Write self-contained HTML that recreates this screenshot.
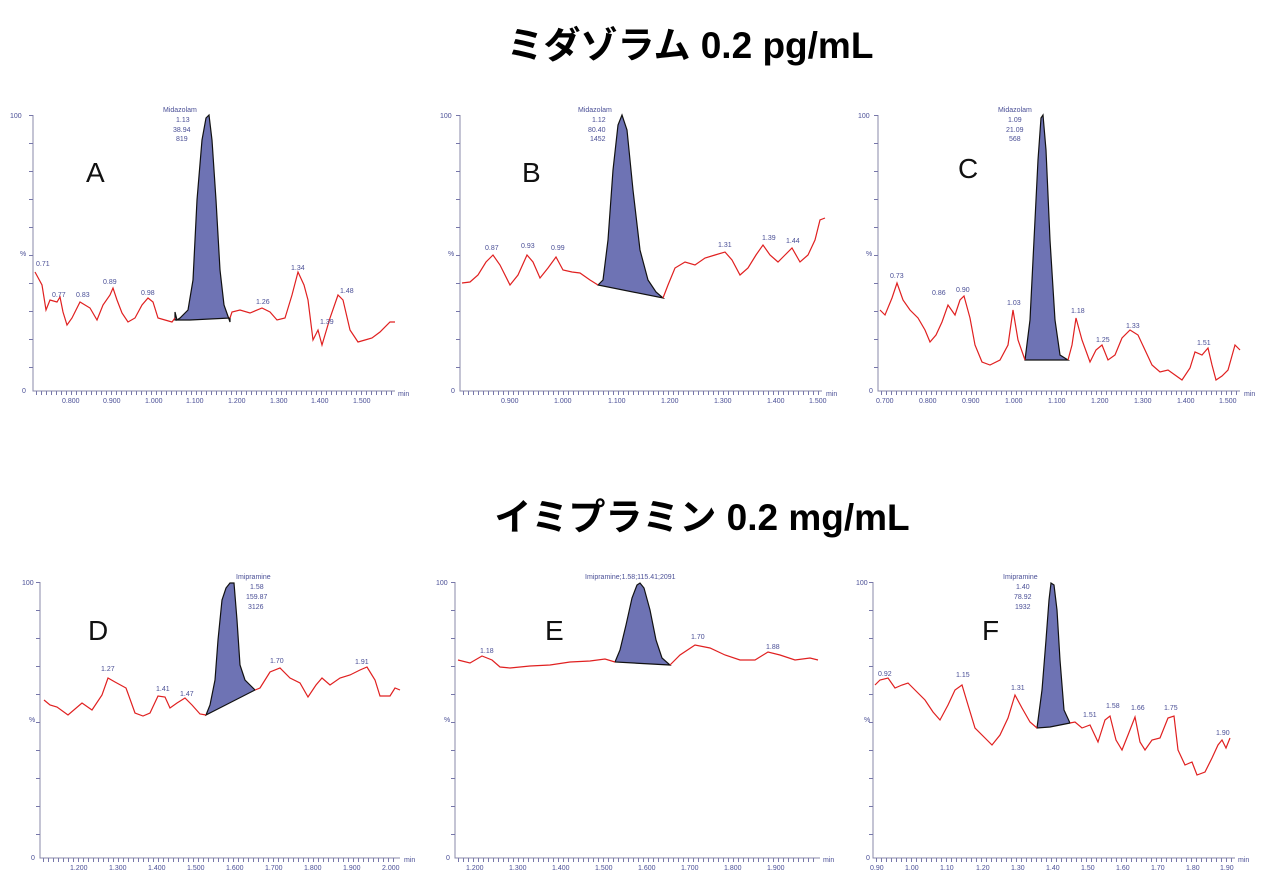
<!DOCTYPE html>
<html><head><meta charset="utf-8"><style>
html,body{margin:0;padding:0;background:#fff;width:1280px;height:896px;overflow:hidden}
svg{display:block}
.t{font-family:"Liberation Sans","Noto Sans CJK JP",sans-serif;font-weight:bold;font-size:37px;fill:#000}
.L{font-family:"Liberation Sans",sans-serif;font-size:28px;fill:#111}
.s{font-family:"Liberation Sans",sans-serif;font-size:7px;fill:#4a4f96}
.ax{stroke:#8888aa;stroke-width:1;fill:none}
.tk{stroke:#7777aa;stroke-width:4;stroke-dasharray:1 4;fill:none}
.tr{stroke:#e02020;stroke-width:1.2;fill:none}
.pk{fill:#6e73b4;stroke:#111;stroke-width:1.2}
</style></head><body>
<svg width="1280" height="896" viewBox="0 0 1280 896">
<text class="t" x="690" y="58" text-anchor="middle">ミダゾラム 0.2 pg/mL</text>
<text class="t" x="702" y="530" text-anchor="middle">イミプラミン 0.2 mg/mL</text>

<!-- Panel A -->
<path class="ax" d="M33 115V391H395"/><path class="tk" d="M36 393H392"/>
<path class="tk" d="M31 115V391" style="stroke-dasharray:1 27"/>
<text class="s" x="10" y="118">100</text><text class="s" x="20" y="256">%</text><text class="s" x="22" y="393">0</text>
<text class="s" x="62" y="403">0.800</text><text class="s" x="103" y="403">0.900</text><text class="s" x="145" y="403">1.000</text><text class="s" x="186" y="403">1.100</text><text class="s" x="228" y="403">1.200</text><text class="s" x="270" y="403">1.300</text><text class="s" x="311" y="403">1.400</text><text class="s" x="353" y="403">1.500</text><text class="s" x="398" y="396">min</text>
<text class="L" x="86" y="182">A</text>
<text class="s" x="163" y="112">Midazolam</text><text class="s" x="176" y="122">1.13</text><text class="s" x="173" y="132">38.94</text><text class="s" x="176" y="141">819</text>
<polygon class="pk" points="175,312 177,320 180,318 188,310 193,280 197,200 202,140 206,118 209,115 212,140 216,200 220,270 224,305 230,322 230,318 190,320 175,320"/>
<polyline class="tr" points="35,272 42,285 46,310 50,300 57,302 60,297 63,312 67,325 72,318 80,302 90,308 97,320 103,305 110,295 113,288 117,300 122,313 128,322 135,318 142,305 148,298 153,302 158,318 165,320 172,322 175,318"/>
<polyline class="tr" points="230,318 232,312 240,310 250,313 262,308 270,312 277,320 285,318 292,295 298,272 304,285 308,300 313,340 318,330 322,345 330,318 338,295 343,300 350,330 358,342 365,340 372,338 380,332 390,322 395,322"/>
<text class="s" x="36" y="266">0.71</text><text class="s" x="52" y="297">0.77</text><text class="s" x="76" y="297">0.83</text><text class="s" x="103" y="284">0.89</text><text class="s" x="141" y="295">0.98</text><text class="s" x="256" y="304">1.26</text><text class="s" x="291" y="270">1.34</text><text class="s" x="320" y="324">1.39</text><text class="s" x="340" y="293">1.48</text>

<!-- Panel B -->
<path class="ax" d="M460 115V391H822"/><path class="tk" d="M463 393H820"/>
<path class="tk" d="M458 115V391" style="stroke-dasharray:1 27"/>
<text class="s" x="440" y="118">100</text><text class="s" x="448" y="256">%</text><text class="s" x="451" y="393">0</text>
<text class="s" x="501" y="403">0.900</text><text class="s" x="554" y="403">1.000</text><text class="s" x="608" y="403">1.100</text><text class="s" x="661" y="403">1.200</text><text class="s" x="714" y="403">1.300</text><text class="s" x="767" y="403">1.400</text><text class="s" x="809" y="403">1.500</text><text class="s" x="826" y="396">min</text>
<text class="L" x="522" y="182">B</text>
<text class="s" x="578" y="112">Midazolam</text><text class="s" x="592" y="122">1.12</text><text class="s" x="588" y="132">80.40</text><text class="s" x="590" y="141">1452</text>
<polygon class="pk" points="598,285 603,280 608,240 613,170 618,125 622,115 627,130 633,190 640,250 648,280 656,292 663,298"/>
<polyline class="tr" points="462,283 470,282 478,275 486,262 493,255 500,265 510,285 518,275 527,255 533,262 540,278 548,268 556,257 563,270 572,272 580,273 590,280 598,285"/>
<polyline class="tr" points="663,298 668,285 675,268 685,262 695,265 705,258 715,255 725,252 732,260 740,275 748,268 756,255 763,245 770,255 778,262 785,255 792,248 800,262 808,255 815,240 820,220 825,218"/>
<text class="s" x="485" y="250">0.87</text><text class="s" x="521" y="248">0.93</text><text class="s" x="551" y="250">0.99</text><text class="s" x="718" y="247">1.31</text><text class="s" x="762" y="240">1.39</text><text class="s" x="786" y="243">1.44</text>

<!-- Panel C -->
<path class="ax" d="M878 115V391H1240"/><path class="tk" d="M881 393H1238"/>
<path class="tk" d="M876 115V391" style="stroke-dasharray:1 27"/>
<text class="s" x="858" y="118">100</text><text class="s" x="866" y="256">%</text><text class="s" x="869" y="393">0</text>
<text class="s" x="876" y="403">0.700</text><text class="s" x="919" y="403">0.800</text><text class="s" x="962" y="403">0.900</text><text class="s" x="1005" y="403">1.000</text><text class="s" x="1048" y="403">1.100</text><text class="s" x="1091" y="403">1.200</text><text class="s" x="1134" y="403">1.300</text><text class="s" x="1177" y="403">1.400</text><text class="s" x="1219" y="403">1.500</text><text class="s" x="1244" y="396">min</text>
<text class="L" x="958" y="178">C</text>
<text class="s" x="998" y="112">Midazolam</text><text class="s" x="1008" y="122">1.09</text><text class="s" x="1006" y="132">21.09</text><text class="s" x="1009" y="141">568</text>
<polygon class="pk" points="1025,360 1030,320 1034,240 1038,160 1041,118 1043,115 1046,150 1050,240 1055,320 1060,355 1068,360"/>
<polyline class="tr" points="880,310 885,315 892,298 897,283 903,300 910,310 918,318 925,330 930,342 936,335 942,322 948,305 955,315 960,300 964,296 970,318 975,345 982,362 990,365 1000,360 1008,345 1013,310 1018,340 1025,360"/>
<polyline class="tr" points="1068,360 1072,345 1076,318 1082,340 1090,362 1096,350 1102,345 1108,360 1115,355 1122,338 1130,330 1138,335 1145,350 1152,365 1160,372 1168,370 1175,375 1182,380 1190,368 1195,352 1202,355 1208,348 1212,365 1216,380 1222,376 1228,370 1235,345 1240,350"/>
<text class="s" x="890" y="278">0.73</text><text class="s" x="932" y="295">0.86</text><text class="s" x="956" y="292">0.90</text><text class="s" x="1007" y="305">1.03</text><text class="s" x="1071" y="313">1.18</text><text class="s" x="1096" y="342">1.25</text><text class="s" x="1126" y="328">1.33</text><text class="s" x="1197" y="345">1.51</text>

<!-- Panel D -->
<path class="ax" d="M40 582V858H400"/><path class="tk" d="M43 860H398"/>
<path class="tk" d="M38 582V858" style="stroke-dasharray:1 27"/>
<text class="s" x="22" y="585">100</text><text class="s" x="29" y="722">%</text><text class="s" x="31" y="860">0</text>
<text class="s" x="70" y="870">1.200</text><text class="s" x="109" y="870">1.300</text><text class="s" x="148" y="870">1.400</text><text class="s" x="187" y="870">1.500</text><text class="s" x="226" y="870">1.600</text><text class="s" x="265" y="870">1.700</text><text class="s" x="304" y="870">1.800</text><text class="s" x="343" y="870">1.900</text><text class="s" x="382" y="870">2.000</text><text class="s" x="404" y="862">min</text>
<text class="L" x="88" y="640">D</text>
<text class="s" x="236" y="579">Imipramine</text><text class="s" x="250" y="589">1.58</text><text class="s" x="246" y="599">159.87</text><text class="s" x="248" y="609">3126</text>
<polygon class="pk" points="206,715 210,705 215,680 218,640 222,600 226,588 230,583 234,583 237,620 240,665 245,680 250,685 255,690"/>
<polyline class="tr" points="44,700 50,705 57,707 68,715 82,703 92,710 102,695 108,678 115,682 126,688 135,713 143,716 150,713 158,696 165,697 170,708 177,703 185,698 192,705 200,714 206,715"/>
<polyline class="tr" points="255,690 260,688 270,672 280,668 290,678 300,683 308,697 316,685 322,678 330,685 340,678 350,675 360,670 367,667 375,680 380,696 390,696 395,688 400,690"/>
<text class="s" x="101" y="671">1.27</text><text class="s" x="156" y="691">1.41</text><text class="s" x="180" y="696">1.47</text><text class="s" x="270" y="663">1.70</text><text class="s" x="355" y="664">1.91</text>

<!-- Panel E -->
<path class="ax" d="M455 582V858H820"/><path class="tk" d="M458 860H818"/>
<path class="tk" d="M453 582V858" style="stroke-dasharray:1 27"/>
<text class="s" x="436" y="585">100</text><text class="s" x="444" y="722">%</text><text class="s" x="446" y="860">0</text>
<text class="s" x="466" y="870">1.200</text><text class="s" x="509" y="870">1.300</text><text class="s" x="552" y="870">1.400</text><text class="s" x="595" y="870">1.500</text><text class="s" x="638" y="870">1.600</text><text class="s" x="681" y="870">1.700</text><text class="s" x="724" y="870">1.800</text><text class="s" x="767" y="870">1.900</text><text class="s" x="823" y="862">min</text>
<text class="L" x="545" y="640">E</text>
<text class="s" x="585" y="579">Imipramine;1.58;115.41;2091</text>
<polygon class="pk" points="615,662 620,650 626,625 632,598 637,585 640,583 644,588 650,610 656,640 662,658 670,665"/>
<polyline class="tr" points="458,660 470,663 482,656 492,660 500,667 510,668 530,666 550,665 570,662 590,661 605,659 615,662"/>
<polyline class="tr" points="670,665 680,655 695,645 710,648 725,655 740,660 755,660 768,652 780,655 795,660 810,658 818,660"/>
<text class="s" x="480" y="653">1.18</text><text class="s" x="691" y="639">1.70</text><text class="s" x="766" y="649">1.88</text>

<!-- Panel F -->
<path class="ax" d="M873 582V858H1235"/><path class="tk" d="M876 860H1233"/>
<path class="tk" d="M871 582V858" style="stroke-dasharray:1 27"/>
<text class="s" x="856" y="585">100</text><text class="s" x="864" y="722">%</text><text class="s" x="866" y="860">0</text>
<text class="s" x="870" y="870">0.90</text><text class="s" x="905" y="870">1.00</text><text class="s" x="940" y="870">1.10</text><text class="s" x="976" y="870">1.20</text><text class="s" x="1011" y="870">1.30</text><text class="s" x="1046" y="870">1.40</text><text class="s" x="1081" y="870">1.50</text><text class="s" x="1116" y="870">1.60</text><text class="s" x="1151" y="870">1.70</text><text class="s" x="1186" y="870">1.80</text><text class="s" x="1220" y="870">1.90</text><text class="s" x="1238" y="862">min</text>
<text class="L" x="982" y="640">F</text>
<text class="s" x="1003" y="579">Imipramine</text><text class="s" x="1016" y="589">1.40</text><text class="s" x="1014" y="599">78.92</text><text class="s" x="1015" y="609">1932</text>
<polygon class="pk" points="1037,728 1042,690 1046,640 1049,600 1051,583 1054,585 1057,610 1060,660 1064,710 1070,723 1050,727"/>
<polyline class="tr" points="875,685 880,680 888,678 895,688 902,685 908,683 915,690 925,700 933,712 940,720 948,705 955,690 962,685 968,705 975,728 985,738 992,745 1000,735 1008,718 1015,695 1022,708 1030,722 1037,728"/>
<polyline class="tr" points="1070,723 1075,722 1082,728 1090,725 1098,742 1105,720 1110,716 1116,740 1122,750 1128,735 1135,717 1140,742 1145,750 1152,740 1160,738 1168,718 1174,716 1178,750 1185,765 1192,762 1197,775 1205,772 1212,758 1218,745 1222,740 1226,748 1230,738"/>
<text class="s" x="878" y="676">0.92</text><text class="s" x="956" y="677">1.15</text><text class="s" x="1011" y="690">1.31</text><text class="s" x="1083" y="717">1.51</text><text class="s" x="1106" y="708">1.58</text><text class="s" x="1131" y="710">1.66</text><text class="s" x="1164" y="710">1.75</text><text class="s" x="1216" y="735">1.90</text>
</svg>
</body></html>
